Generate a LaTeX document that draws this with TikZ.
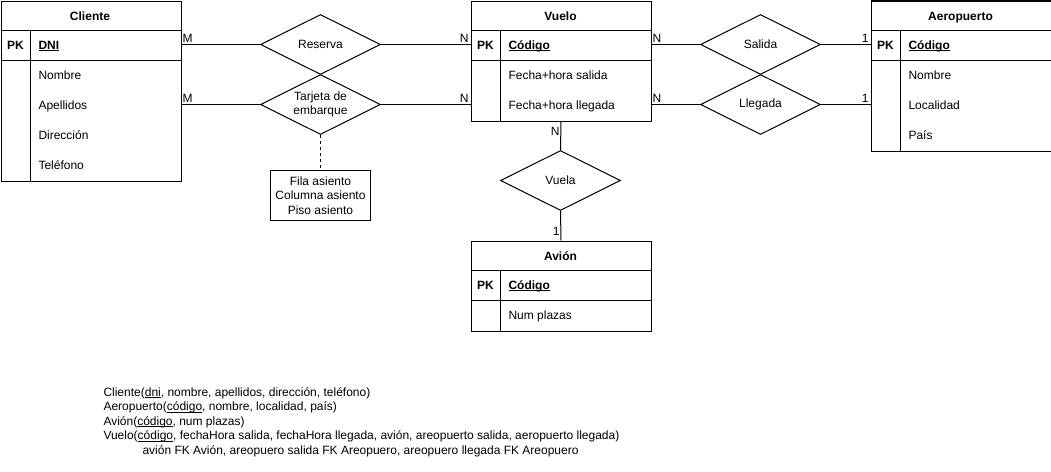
\documentclass[tikz,border=0pt]{standalone}
\usepackage{fontspec}
\setmainfont{Liberation Sans}
\usetikzlibrary{shapes.geometric}
\newcommand\myul[1]{\setbox0\hbox{#1}\rlap{\rule[-1.6pt]{\wd0}{0.8pt}}\box0}
\begin{document}
\begin{tikzpicture}[x=1pt,y=-1pt,line width=1pt,
  every node/.style={font=\fontsize{12}{14.5}\selectfont},
  tbl/.style={draw, anchor=north west, minimum width=180pt, inner sep=0pt},
  rel/.style={draw, diamond, aspect=2, minimum width=120pt, minimum height=60pt, inner sep=0pt},
  tx/.style={anchor=base west, inner sep=0pt},
  hd/.style={anchor=base, inner sep=0pt, font=\fontsize{12}{14.5}\selectfont\bfseries},
  card/.style={inner sep=1pt}]
\useasboundingbox (0,0) rectangle (1051,471);

% Cliente
\node[tbl, minimum height=180pt] (cliente) at (0.5,0.5) {};
\draw (cliente.north west |- 0,30.5) -- (cliente.north east |- 0,30.5);
\draw (cliente.north west |- 0,60.5) -- (cliente.north east |- 0,60.5);
\draw (30.5,30.5) -- (30.5,180.5);
\node[hd] (cl-h) at (90,20) {Cliente};
\node[hd] (cl-pk) at (15.5,49) {PK};
\node[tx,font=\fontsize{12}{14.5}\selectfont\bfseries] (cl-dni) at (38,49) {\myul{DNI}};
\node[tx] (cl-a1) at (38,79) {Nombre};
\node[tx] (cl-a2) at (38,109) {Apellidos};
\node[tx] (cl-a3) at (38,139) {Dirección};
\node[tx] (cl-a4) at (38,169) {Teléfono};

% Vuelo
\node[tbl, minimum height=120pt] (vuelo) at (470.5,0.5) {};
\draw (470.5,30.5) -- (650.5,30.5);
\draw (470.5,60.5) -- (650.5,60.5);
\draw (500.5,30.5) -- (500.5,120.5);
\node[hd] (vu-h) at (560.5,20) {Vuelo};
\node[hd] (vu-pk) at (485.5,49) {PK};
\node[tx,font=\fontsize{12}{14.5}\selectfont\bfseries] (vu-cod) at (508,49) {\myul{Código}};
\node[tx] (vu-a1) at (508,79) {Fecha+hora salida};
\node[tx] (vu-a2) at (508,109) {Fecha+hora llegada};

% Aeropuerto
\node[tbl, minimum height=150pt] (aero) at (870.5,0.5) {};
\draw (870.5,30.5) -- (1050.5,30.5);
\draw (870.5,60.5) -- (1050.5,60.5);
\draw (900.5,30.5) -- (900.5,150.5);
\node[hd] (ae-h) at (960.5,20) {Aeropuerto};
\node[hd] (ae-pk) at (885.5,49) {PK};
\node[tx,font=\fontsize{12}{14.5}\selectfont\bfseries] (ae-cod) at (908,49) {\myul{Código}};
\node[tx] (ae-a1) at (908,79) {Nombre};
\node[tx] (ae-a2) at (908,109) {Localidad};
\node[tx] (ae-a3) at (908,139) {País};

% Avion
\node[tbl, minimum height=90pt] (avion) at (470.5,240.5) {};
\draw (470.5,270.5) -- (650.5,270.5);
\draw (470.5,300.5) -- (650.5,300.5);
\draw (500.5,270.5) -- (500.5,330.5);
\node[hd] (av-h) at (560.5,260) {Avión};
\node[hd] (av-pk) at (485.5,289) {PK};
\node[tx,font=\fontsize{12}{14.5}\selectfont\bfseries] (av-cod) at (508,289) {\myul{Código}};
\node[tx] (av-a1) at (508,319) {Num plazas};

% Relationships
\node[rel] (reserva) at (320.5,44.5) {};
\node (reserva-t) at (reserva.center) {Reserva};
\node[rel] (tarjeta) at (320.5,104.5) {};
\node[align=center, inner sep=0pt] (tarjeta-t) at (tarjeta.center) {Tarjeta de\\embarque};
\node[rel] (salida) at (760.5,44.5) {};
\node (salida-t) at (salida.center) {Salida};
\node[rel] (llegada) at (760.5,104.5) {};
\node (llegada-t) at (llegada.center) {Llegada};
\node[rel] (vuela) at (560.5,180.5) {};
\node (vuela-t) at (vuela.center) {Vuela};

\node[draw, align=center, minimum width=100pt, minimum height=50pt, inner sep=0pt] (asiento) at (320.5,195.5) {Fila asiento\\Columna asiento\\Piso asiento};

% Connectors
\draw (reserva.west -| cliente.east) -- (reserva.west);
\draw (reserva.east) -- (reserva.east -| vuelo.west);
\draw (tarjeta.west -| cliente.east) -- (tarjeta.west);
\draw (tarjeta.east) -- (tarjeta.east -| vuelo.west);
\draw (salida.west -| vuelo.east) -- (salida.west);
\draw (salida.east) -- (salida.east -| aero.west);
\draw (llegada.west -| vuelo.east) -- (llegada.west);
\draw (llegada.east) -- (llegada.east -| aero.west);
\draw (vuelo.south) -- (vuela.north);
\draw (vuela.south) -- (avion.north);
\draw[dash pattern=on 3pt off 3pt] (tarjeta.south) -- (asiento.north);

% Cardinalities
\node[card, anchor=south west] (c1) at (181,44) {M};
\node[card, anchor=south east] (c2) at (470,44) {N};
\node[card, anchor=south west] (c3) at (181,104) {M};
\node[card, anchor=south east] (c4) at (470,104) {N};
\node[card, anchor=south west] (c5) at (651,44) {N};
\node[card, anchor=south east] (c6) at (870,44) {1};
\node[card, anchor=south west] (c7) at (651,104) {N};
\node[card, anchor=south east] (c8) at (870,104) {1};
\node[card, anchor=east] (c9) at (561,131) {N};
\node[card, anchor=east] (c10) at (561,231) {1};

% Relational schema
\node[tx, align=left, anchor=north west] (schema) at (103,387) {Cliente(\myul{dni}, nombre, apellidos, dirección, teléfono)\\
Aeropuerto(\myul{código}, nombre, localidad, país)\\
Avión(\myul{código}, num plazas)\\
Vuelo(\myul{código}, fechaHora salida, fechaHora llegada, avión, areopuerto salida, aeropuerto llegada)\\
\hspace*{39pt}avión FK Avión, areopuero salida FK Areopuero, areopuero llegada FK Areopuero};
\end{tikzpicture}
\end{document}
